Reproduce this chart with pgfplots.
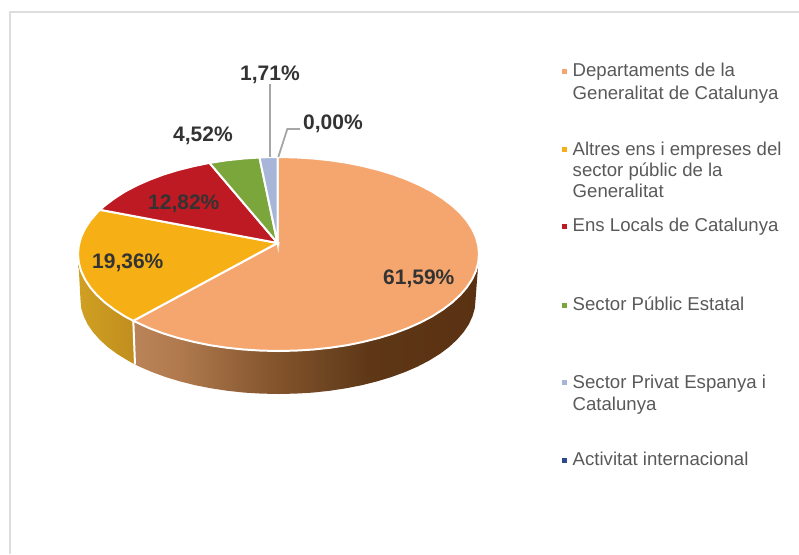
\documentclass[border=0pt]{standalone}
\usepackage{pgfplots}
\pgfplotsset{compat=1.18}
\usepackage{fontspec}
\setmainfont{Liberation Sans}
\definecolor{cOr}{HTML}{F4A66E}
\definecolor{cYe}{HTML}{F6B015}
\definecolor{cRe}{HTML}{BE1A23}
\definecolor{cGr}{HTML}{7AA63B}
\definecolor{cLa}{HTML}{A6B5D8}
\definecolor{cNa}{HTML}{2F4A8A}
\definecolor{cTx}{HTML}{333333}
\definecolor{cLg}{HTML}{595959}
\definecolor{cLd}{HTML}{A6A6A6}
\definecolor{cFr}{HTML}{DDDDDD}
\definecolor{sa}{RGB}{186,132,88}
\definecolor{sb}{RGB}{176,122,78}
\definecolor{sc}{RGB}{138,90,50}
\definecolor{sd}{RGB}{126,80,41}
\definecolor{se}{RGB}{106,66,32}
\definecolor{sf}{RGB}{94,55,22}
\definecolor{sg}{RGB}{90,50,19}
\definecolor{ya}{RGB}{208,160,34}
\definecolor{yb}{RGB}{192,142,30}
\pgfdeclarehorizontalshading{sideorange}{100bp}{
 color(0bp)=(sa);
 color(25bp)=(sa);
 color(31.5bp)=(sb);
 color(43.2bp)=(sc);
 color(47.5bp)=(sd);
 color(54.4bp)=(se);
 color(59.2bp)=(sf);
 color(75bp)=(sg);
 color(100bp)=(sg)}
\pgfdeclarehorizontalshading{sideyellow}{100bp}{
 color(0bp)=(ya);
 color(25bp)=(ya);
 color(75bp)=(yb);
 color(100bp)=(yb)}
\newcommand{\lab}[3]{\node[anchor=base west,inner sep=0pt,text=cTx,font=\fontsize{21}{21}\selectfont\bfseries] at (axis cs:#1,#2) {#3};}
\newcommand{\leg}[3]{\node[anchor=base west,inner sep=0pt,text=cLg,font=\fontsize{18.6}{22}\selectfont] at (axis cs:#1,#2) {#3};}
\begin{document}
\begin{tikzpicture}
\begin{axis}[
  scale only axis, width=799pt, height=554pt,
  xmin=0, xmax=799, ymin=0, ymax=554, y dir=reverse,
  hide axis, clip=true]
% page extent
\addplot[draw=none, forget plot] coordinates {(0,0)(799,554)};
% frame
\addplot[cFr, line width=2pt] coordinates {(9.5,554) (9.5,12) (799,12)};
% side walls
\addplot[draw=none, shade, shading=sideorange] coordinates {
(479,254)(478.2,262.5)(476,270.8)(472.2,279.1)(466.9,287.2)(460.2,295)(452.1,302.5)(442.7,309.6)(432.1,316.4)(420.3,322.6)(407.4,328.3)(393.5,333.5)(378.8,338)(363.2,341.9)(347.1,345.2)(330.4,347.7)(313.3,349.5)(296,350.6)(278.5,351)(261,350.6)(243.7,349.5)(226.6,347.7)(209.9,345.2)(193.8,341.9)(178.2,338)(163.5,333.5)(149.6,328.3)(133.3,320.8)
(135,364.5)(139.2,366.5)(151.9,372)(165.5,377)(180,381.4)(195.2,385.2)(211.1,388.3)(227.5,390.8)(244.3,392.6)(261.3,393.6)(278.5,394)(295.7,393.6)(312.7,392.6)(329.5,390.8)(345.9,388.3)(361.8,385.2)(377,381.4)(391.5,377)(405.1,372)(417.8,366.5)(429.4,360.4)(439.9,353.9)(449.1,347)(457,339.7)(463.6,332.1)(468.8,324.3)(472.5,316.3)(474.8,308.2)(475.5,300)
} --cycle;
\addplot[draw=none, shade, shading=sideyellow] coordinates {
(133.3,320.8)(124.9,316.4)(114.3,309.6)(104.9,302.5)(96.8,295)(90.1,287.2)(84.8,279.1)(81,270.8)(78.8,262.5)(78,254)
(80.5,300)(81.2,308.2)(83.8,316.3)(87.6,324.3)(93,332.1)(99.7,339.7)(107.7,347)(117,353.9)(127.6,360.4)(135,364.5)
} --cycle;
\addplot[white, line width=2pt] coordinates {(133.3,320.8)(135,364.5)};
% top slices
\addplot[fill=cOr, draw=white, line width=2pt] coordinates {
(277.5,243)(277.5,157)(296,157.4)(313.3,158.5)(330.4,160.3)(347.1,162.8)(363.2,166.1)(378.8,170)(393.5,174.5)(407.4,179.7)(420.3,185.4)(432.1,191.6)(442.7,198.4)(452.1,205.5)(460.2,213)(466.9,220.8)(472.2,228.9)(476,237.2)(478.2,245.5)(479,254)(478.2,262.5)(476,270.8)(472.2,279.1)(466.9,287.2)(460.2,295)(452.1,302.5)(442.7,309.6)(432.1,316.4)(420.3,322.6)(407.4,328.3)(393.5,333.5)(378.8,338)(363.2,341.9)(347.1,345.2)(330.4,347.7)(313.3,349.5)(296,350.6)(278.5,351)(261,350.6)(243.7,349.5)(226.6,347.7)(209.9,345.2)(193.8,341.9)(178.2,338)(163.5,333.5)(149.6,328.3)(133.3,320.8)
} --cycle;
\addplot[fill=cYe, draw=white, line width=2pt] coordinates {
(277.5,243)(133.3,320.8)(124.9,316.4)(114.3,309.6)(104.9,302.5)(96.8,295)(90.1,287.2)(84.8,279.1)(81,270.8)(78.8,262.5)(78,254)(78.8,245.5)(81,237.2)(84.8,228.9)(90.1,220.8)(96.8,213)(100,209.8)
} --cycle;
\addplot[fill=cRe, draw=white, line width=2pt] coordinates {
(277.5,243)(100,209.8)(104.9,205.5)(114.3,198.4)(124.9,191.6)(136.7,185.4)(149.6,179.7)(163.5,174.5)(178.2,170)(193.8,166.1)(209.5,162.9)
} --cycle;
\addplot[fill=cGr, draw=white, line width=2pt] coordinates {
(277.5,243)(209.5,162.9)(226.6,160.3)(243.7,158.5)(259.5,157.5)
} --cycle;
\addplot[fill=cLa, draw=white, line width=2pt] coordinates {
(277.5,243)(259.5,157.5)(268.5,157.1)(277.5,157)
} --cycle;
% leader lines
\addplot[cLd, line width=1.8pt] coordinates {(269.7,84)(269.7,157)};
\addplot[cLd, line width=1.8pt] coordinates {(300,129)(287.3,129)(278.3,157)};
% legend keys
\addplot[only marks, mark=square*, mark size=1.8, color=cOr] coordinates {(564,71)};
\addplot[only marks, mark=square*, mark size=1.8, color=cYe] coordinates {(564,149)};
\addplot[only marks, mark=square*, mark size=1.8, color=cRe] coordinates {(564,226)};
\addplot[only marks, mark=square*, mark size=1.8, color=cGr] coordinates {(564,305)};
\addplot[only marks, mark=square*, mark size=1.8, color=cLa] coordinates {(564,382)};
\addplot[only marks, mark=square*, mark size=1.8, color=cNa] coordinates {(564,460)};
% data labels
\lab{383}{284}{61,59\%}
\lab{92}{268.3}{19,36\%}
\lab{148}{209.3}{12,82\%}
\lab{173}{141}{4,52\%}
\lab{240}{80}{1,71\%}
\lab{303}{129}{0,00\%}
% legend text
\leg{572.5}{76.7}{Departaments de la}
\leg{572.5}{99}{Generalitat de Catalunya}
\leg{572.5}{155}{Altres ens i empreses del}
\leg{572.5}{176.7}{sector públic de la}
\leg{572.5}{197.7}{Generalitat}
\leg{572.5}{231.7}{Ens Locals de Catalunya}
\leg{572.5}{310}{Sector Públic Estatal}
\leg{572.5}{388}{Sector Privat Espanya i}
\leg{572.5}{410}{Catalunya}
\leg{572.5}{465.7}{Activitat internacional}
\end{axis}
\end{tikzpicture}
\end{document}
